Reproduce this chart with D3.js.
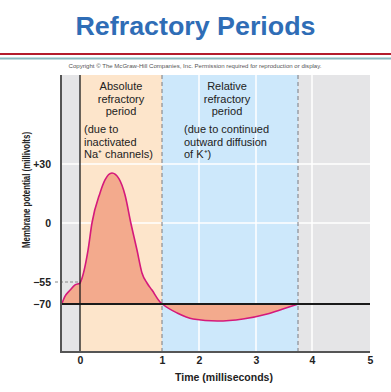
<!DOCTYPE html>
<html lang="en">
<head>
  <meta charset="UTF-8" />
  <title>Refractory Periods</title>
  <style>
    body {
      margin: 0;
      background: #fff;
      font-family: "Liberation Sans", Arial, sans-serif;
    }
  </style>
</head>
<body>
  <div id="chart"></div>

  <script src="https://d3js.org/d3.v7.min.js"></script>
  <script>
    // data
    const timeMs = [-0.24, -0.2, -0.13, -0.065, 0, 0.012, 0.098, 0.146, 0.244, 0.305, 0.39, 0.476, 0.549, 0.62, 0.695, 0.756, 0.817, 0.878, 0.976, 1.01, 1.41, 1.84, 2.32, 2.77, 3.2, 3.48, 3.75];
    const potentialMv = [-70, -65, -60.5, -57, -55.7, -54, -25.2, 0, 15.3, 21.9, 25.4, 22.4, 14.2, 0, -25.2, -46.6, -55.7, -60.5, -68.6, -70, -76.2, -80.3, -81.7, -80.3, -76.9, -73.4, -70];

    const phaseNames = ["before", "absolute", "relative", "after"];
    const phaseStart = [-0.25, 0, 1, 3.75];
    const phaseEnd = [0, 1, 3.75, 5];

    const xTicks = [0, 1, 2, 3, 4, 5];
    const xGrid = [2, 3, 4];
    const yTicks = [30, 0, -55, -70];
    const yTickLabels = ["+30", "0", "\u221255", "\u221270"];
    const yGrid = [30, 0];
    const restingMv = -70;
    const thresholdMv = -55;

    const absoluteTitle = ["Absolute", "refractory", "period"];
    const absoluteNote = ["(due to", "inactivated", "Na\u207A channels)"];
    const relativeTitle = ["Relative", "refractory", "period"];
    const relativeNote = ["(due to continued", "outward diffusion", "of K\u207A)"];

    const phaseColor = {before: "#e5e5e7", absolute: "#fde5cb", relative: "#cde8fb", after: "#e5e5e7"};

    const W = 391, H = 392;
    const svg = d3.select("#chart").append("svg")
      .attr("width", W).attr("height", H);

    // the original drawing has an uneven time axis and voltage axis
    const x = d3.scaleLinear()
      .domain([-0.25, 0, 1, 2, 3, 4, 5])
      .range([61, 80, 162, 199, 256, 312, 370]);
    const y = d3.scaleLinear()
      .domain([-103, -70, -55, 0, 30, 74.5])
      .range([352, 304, 282, 223, 164, 75]);

    const plotTop = y(74.5), plotBottom = y(-103), plotLeft = x(-0.25), plotRight = x(5);

    // header
    svg.append("text")
      .attr("x", W / 2).attr("y", 35)
      .attr("text-anchor", "middle")
      .attr("font-size", 25).attr("font-weight", "bold")
      .attr("fill", "#2f6db6")
      .attr("textLength", 240).attr("lengthAdjust", "spacingAndGlyphs")
      .text("Refractory Periods");
    svg.append("rect").attr("x", 0).attr("y", 53).attr("width", W).attr("height", 2).attr("fill", "#b41c2c");
    svg.append("rect").attr("x", 0).attr("y", 57.5).attr("width", W).attr("height", 2).attr("fill", "#8ab8be");
    svg.append("text")
      .attr("x", 195).attr("y", 68)
      .attr("text-anchor", "middle")
      .attr("font-size", 5.5).attr("fill", "#555")
      .attr("textLength", 253).attr("lengthAdjust", "spacingAndGlyphs")
      .text("Copyright \u00A9 The McGraw-Hill Companies, Inc. Permission required for reproduction or display.");

    // phase backgrounds
    svg.selectAll("rect.phase")
      .data(phaseNames)
      .enter().append("rect")
        .attr("class", "phase")
        .attr("x", (d, i) => x(phaseStart[i]))
        .attr("y", plotTop)
        .attr("width", (d, i) => x(phaseEnd[i]) - x(phaseStart[i]))
        .attr("height", plotBottom - plotTop)
        .attr("fill", d => phaseColor[d]);

    // white grid
    svg.selectAll("line.hgrid")
      .data(yGrid).enter().append("line")
        .attr("x1", plotLeft).attr("x2", plotRight)
        .attr("y1", d => y(d)).attr("y2", d => y(d))
        .attr("stroke", "#fff").attr("stroke-width", 1.5);
    svg.selectAll("line.vgrid")
      .data(xGrid).enter().append("line")
        .attr("x1", d => x(d)).attr("x2", d => x(d))
        .attr("y1", plotTop).attr("y2", plotBottom)
        .attr("stroke", "#fff").attr("stroke-width", 1.5);

    // action potential
    const pts = timeMs.map((t, i) => ({t: t, v: potentialMv[i]}));

    const area = d3.area()
      .x(d => x(d.t))
      .y0(y(restingMv))
      .y1(d => y(d.v))
      .curve(d3.curveMonotoneX);
    const line = d3.line()
      .x(d => x(d.t))
      .y(d => y(d.v))
      .curve(d3.curveMonotoneX);

    svg.append("path").datum(pts)
      .attr("d", area)
      .attr("fill", "#f3aa8d");

    // dashed period boundaries
    svg.selectAll("line.bound")
      .data([phaseEnd[1], phaseEnd[2]]).enter().append("line")
        .attr("x1", d => x(d)).attr("x2", d => x(d))
        .attr("y1", plotTop).attr("y2", plotBottom)
        .attr("stroke", "#7b7b80").attr("stroke-width", 1)
        .attr("stroke-dasharray", "4,3");

    // threshold dash
    svg.append("line")
      .attr("x1", 55).attr("x2", x(0))
      .attr("y1", y(thresholdMv)).attr("y2", y(thresholdMv))
      .attr("stroke", "#888").attr("stroke-width", 1)
      .attr("stroke-dasharray", "3,2");

    svg.append("path").datum(pts)
      .attr("d", line)
      .attr("fill", "none")
      .attr("stroke", "#d5197b")
      .attr("stroke-width", 1.6);

    // resting line and stimulus line
    svg.append("line")
      .attr("x1", plotLeft).attr("x2", plotRight)
      .attr("y1", y(restingMv)).attr("y2", y(restingMv))
      .attr("stroke", "#1a1a1a").attr("stroke-width", 2);
    svg.append("line")
      .attr("x1", x(0)).attr("x2", x(0))
      .attr("y1", plotTop).attr("y2", plotBottom)
      .attr("stroke", "#1a1a1a").attr("stroke-width", 1.3);

    // frame (left and bottom)
    svg.append("path")
      .attr("d", `M${plotLeft},${plotTop}V${plotBottom}H${plotRight}`)
      .attr("fill", "none")
      .attr("stroke", "#555")
      .attr("stroke-width", 2);

    // axes
    const xAxis = svg.append("g")
      .attr("transform", `translate(0,${plotBottom + 2})`)
      .call(d3.axisBottom(x).tickValues(xTicks).tickSize(0).tickFormat(d3.format("d")));
    xAxis.select(".domain").remove();
    xAxis.selectAll("text")
      .attr("font-family", "Liberation Sans, Arial, sans-serif")
      .attr("font-size", 10.5).attr("font-weight", "bold").attr("fill", "#222");

    const yAxis = svg.append("g")
      .attr("transform", `translate(${plotLeft - 7},0)`)
      .call(d3.axisLeft(y).tickValues(yTicks).tickSize(0).tickFormat((d, i) => yTickLabels[i]));
    yAxis.select(".domain").remove();
    yAxis.selectAll("text")
      .attr("font-family", "Liberation Sans, Arial, sans-serif")
      .attr("font-size", 10.5).attr("font-weight", "bold").attr("fill", "#222");

    svg.append("text")
      .attr("x", 224).attr("y", 381)
      .attr("text-anchor", "middle")
      .attr("font-size", 10.5).attr("font-weight", "bold").attr("fill", "#222")
      .text("Time (milliseconds)");

    svg.append("text")
      .attr("transform", "translate(30,190) rotate(-90)")
      .attr("text-anchor", "middle")
      .attr("font-size", 11.5).attr("font-weight", "bold").attr("fill", "#222")
      .attr("textLength", 116).attr("lengthAdjust", "spacingAndGlyphs")
      .text("Membrane potential (millivolts)");

    // period annotations
    function block(lines, xpos, y0, anchor) {
      svg.append("g").selectAll("text")
        .data(lines).enter().append("text")
          .attr("x", xpos)
          .attr("y", (d, i) => y0 + i * 12.5)
          .attr("text-anchor", anchor)
          .attr("font-size", 11).attr("fill", "#222")
          .text(d => d);
    }
    block(absoluteTitle, (x(0) + x(1)) / 2, 90, "middle");
    block(absoluteNote, 84, 133, "start");
    block(relativeTitle, 227, 90, "middle");
    block(relativeNote, 184, 133, "start");
  </script>
</body>
</html>
